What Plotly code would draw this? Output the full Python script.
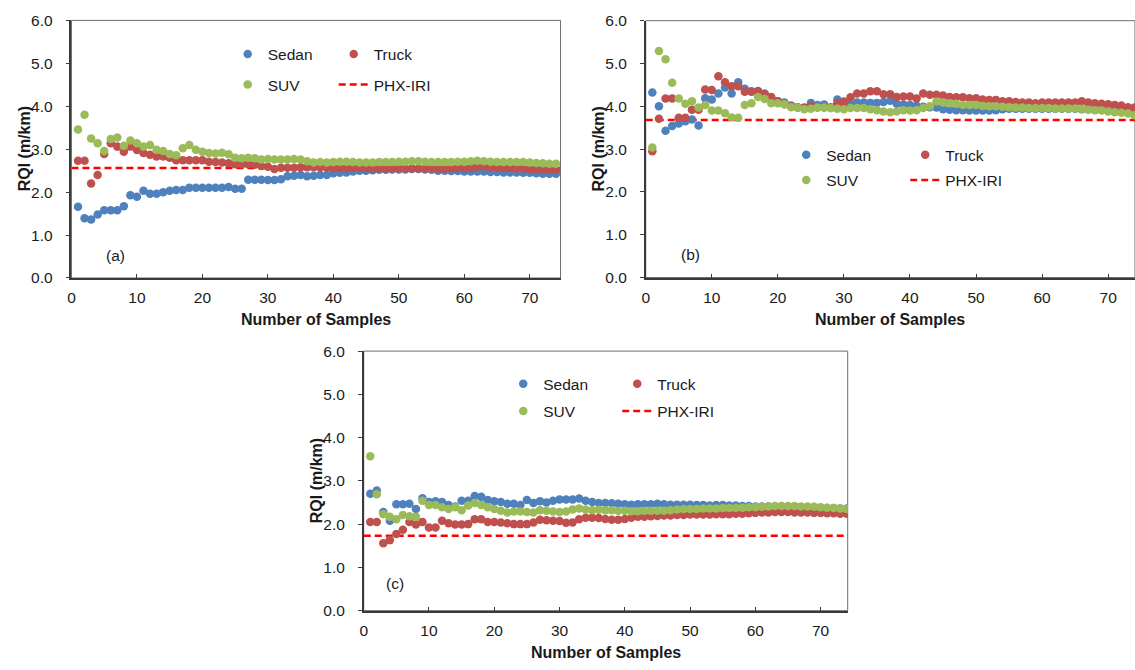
import plotly.graph_objects as go

# ---------------- data ----------------
samples = list(range(1, 75))
x_ticks = [0, 10, 20, 30, 40, 50, 60, 70]
y_ticks = [0, 1, 2, 3, 4, 5, 6]
series_names = ["Sedan", "Truck", "SUV"]
series_colors = ["#4F81BD", "#C0504D", "#9BBB59"]
panel_labels = ["(a)", "(b)", "(c)"]
phx_iri = [2.56, 3.68, 1.73]

sedan_a = [1.66, 1.39, 1.36, 1.48, 1.58, 1.58, 1.58, 1.67, 1.93, 1.89,
           2.03, 1.96, 1.96, 2.00, 2.03, 2.05, 2.05, 2.10, 2.10, 2.10,
           2.10, 2.10, 2.10, 2.12, 2.08, 2.08, 2.29, 2.29, 2.29, 2.28,
           2.28, 2.30, 2.37, 2.38, 2.40, 2.37, 2.38, 2.40, 2.40, 2.44,
           2.45, 2.46, 2.48, 2.50, 2.50, 2.51, 2.52, 2.52, 2.53, 2.53,
           2.53, 2.54, 2.54, 2.53, 2.52, 2.50, 2.50, 2.49, 2.49, 2.48,
           2.48, 2.48, 2.48, 2.47, 2.47, 2.46, 2.46, 2.46, 2.45, 2.45,
           2.44, 2.43, 2.43, 2.43]
truck_a = [2.73, 2.73, 2.20, 2.40, 2.89, 3.14, 3.06, 2.94, 3.06, 2.98,
           2.91, 2.87, 2.83, 2.83, 2.80, 2.74, 2.74, 2.74, 2.74, 2.74,
           2.71, 2.70, 2.69, 2.67, 2.65, 2.65, 2.65, 2.64, 2.61, 2.59,
           2.54, 2.57, 2.57, 2.57, 2.58, 2.58, 2.58, 2.58, 2.57, 2.56,
           2.56, 2.56, 2.56, 2.56, 2.56, 2.55, 2.55, 2.55, 2.55, 2.55,
           2.55, 2.55, 2.55, 2.55, 2.55, 2.55, 2.55, 2.55, 2.56, 2.56,
           2.57, 2.59, 2.60, 2.58, 2.57, 2.56, 2.56, 2.55, 2.55, 2.54,
           2.54, 2.53, 2.52, 2.52]
suv_a = [3.46, 3.80, 3.25, 3.14, 2.96, 3.24, 3.27, 3.08, 3.20, 3.14,
         3.06, 3.10, 2.99, 2.96, 2.89, 2.86, 3.02, 3.10, 2.99, 2.94,
         2.91, 2.90, 2.92, 2.88, 2.80, 2.79, 2.80, 2.79, 2.76, 2.77,
         2.76, 2.76, 2.76, 2.77, 2.76, 2.72, 2.69, 2.70, 2.69, 2.70,
         2.71, 2.71, 2.70, 2.69, 2.69, 2.69, 2.70, 2.70, 2.70, 2.71,
         2.71, 2.72, 2.72, 2.71, 2.70, 2.70, 2.70, 2.70, 2.71, 2.71,
         2.72, 2.73, 2.72, 2.71, 2.70, 2.70, 2.70, 2.70, 2.70, 2.69,
         2.68, 2.67, 2.66, 2.66]

sedan_b = [4.32, 4.00, 3.43, 3.54, 3.60, 3.65, 3.69, 3.55, 4.19, 4.16,
           4.30, 4.44, 4.30, 4.56, 4.41, 4.35, 4.36, 4.30, 4.20, 4.12,
           4.09, 4.02, 3.98, 3.97, 4.08, 4.03, 4.04, 3.98, 4.16, 4.03,
           4.06, 4.09, 4.09, 4.08, 4.08, 4.10, 4.13, 4.06, 4.04, 4.03,
           4.01, 3.99, 3.98, 3.97, 3.93, 3.92, 3.91, 3.91, 3.90, 3.90,
           3.90, 3.90, 3.91, 3.93, 3.94, 3.94, 3.94, 3.94, 3.94, 3.94,
           3.94, 3.94, 3.94, 3.94, 3.94, 3.93, 3.93, 3.92, 3.92, 3.91,
           3.90, 3.89, 3.88, 3.88]
truck_b = [2.95, 3.71, 4.18, 4.18, 3.73, 3.73, 3.92, 3.92, 4.39, 4.38,
           4.70, 4.56, 4.47, 4.47, 4.34, 4.34, 4.35, 4.28, 4.22, 4.12,
           4.05, 4.00, 3.97, 3.96, 4.00, 3.97, 3.97, 3.96, 4.07, 4.11,
           4.21, 4.30, 4.30, 4.35, 4.35, 4.28, 4.28, 4.22, 4.23, 4.23,
           4.18, 4.30, 4.27, 4.27, 4.25, 4.22, 4.21, 4.21, 4.19, 4.19,
           4.16, 4.15, 4.15, 4.12, 4.12, 4.10, 4.09, 4.09, 4.07, 4.09,
           4.09, 4.09, 4.09, 4.09, 4.09, 4.12, 4.09, 4.07, 4.06, 4.05,
           4.03, 4.02, 3.98, 3.97]
suv_b = [3.04, 5.29, 5.10, 4.55, 4.18, 4.06, 4.12, 3.97, 4.03, 3.90,
         3.90, 3.84, 3.74, 3.73, 4.03, 4.07, 4.22, 4.17, 4.07, 4.07,
         4.05, 3.98, 3.97, 3.93, 3.94, 3.97, 3.97, 3.96, 3.94, 3.93,
         3.96, 3.96, 3.96, 3.93, 3.91, 3.88, 3.86, 3.88, 3.91, 3.90,
         3.91, 3.96, 4.00, 4.11, 4.09, 4.07, 4.06, 4.03, 4.03, 4.03,
         4.01, 4.00, 4.00, 3.99, 3.98, 3.97, 3.97, 3.96, 3.96, 3.96,
         3.96, 3.95, 3.95, 3.95, 3.95, 3.94, 3.92, 3.91, 3.90, 3.88,
         3.86, 3.85, 3.83, 3.79]

sedan_c = [2.70, 2.78, 2.28, 2.08, 2.46, 2.46, 2.47, 2.35, 2.60, 2.51,
           2.53, 2.51, 2.44, 2.41, 2.54, 2.54, 2.65, 2.63, 2.56, 2.53,
           2.51, 2.47, 2.47, 2.44, 2.56, 2.49, 2.53, 2.50, 2.54, 2.57,
           2.57, 2.57, 2.59, 2.54, 2.51, 2.49, 2.49, 2.48, 2.47, 2.46,
           2.45, 2.46, 2.46, 2.46, 2.47, 2.46, 2.45, 2.45, 2.45, 2.45,
           2.44, 2.44, 2.43, 2.44, 2.44, 2.43, 2.43, 2.42, 2.42, 2.41,
           2.41, 2.41, 2.41, 2.40, 2.40, 2.40, 2.39, 2.39, 2.38, 2.38,
           2.37, 2.37, 2.36, 2.36]
truck_c = [2.05, 2.05, 1.56, 1.63, 1.77, 1.87, 2.05, 1.99, 2.05, 1.92,
           1.92, 2.08, 2.02, 1.99, 1.99, 2.00, 2.11, 2.11, 2.05, 2.05,
           2.04, 2.02, 2.00, 2.00, 2.00, 2.04, 2.10, 2.09, 2.08, 2.07,
           2.03, 2.04, 2.11, 2.15, 2.15, 2.14, 2.12, 2.10, 2.10, 2.12,
           2.15, 2.17, 2.17, 2.18, 2.19, 2.20, 2.20, 2.21, 2.21, 2.22,
           2.22, 2.22, 2.22, 2.23, 2.23, 2.23, 2.24, 2.24, 2.25, 2.26,
           2.27, 2.27, 2.28, 2.28, 2.28, 2.27, 2.27, 2.27, 2.26, 2.26,
           2.25, 2.25, 2.24, 2.24]
suv_c = [3.57, 2.69, 2.23, 2.17, 2.11, 2.21, 2.18, 2.17, 2.54, 2.44,
         2.44, 2.39, 2.35, 2.39, 2.32, 2.43, 2.49, 2.44, 2.39, 2.35,
         2.31, 2.27, 2.29, 2.29, 2.28, 2.27, 2.32, 2.31, 2.29, 2.28,
         2.29, 2.34, 2.36, 2.34, 2.32, 2.33, 2.32, 2.32, 2.31, 2.31,
         2.30, 2.30, 2.31, 2.31, 2.31, 2.31, 2.32, 2.34, 2.35, 2.35,
         2.35, 2.36, 2.36, 2.36, 2.37, 2.37, 2.38, 2.38, 2.39, 2.39,
         2.40, 2.41, 2.42, 2.42, 2.42, 2.42, 2.41, 2.41, 2.40, 2.39,
         2.38, 2.37, 2.36, 2.35]

panel_series = [
    [sedan_a, truck_a, suv_a],
    [sedan_b, truck_b, suv_b],
    [sedan_c, truck_c, suv_c],
]

# ---------------- layout geometry (pixels) ----------------
W, H = 1135, 670
FONT = "Arial, 'Liberation Sans', sans-serif"
TXT = "#1a1a1a"

# left, right, top, bottom of each plot area, and x-axis upper limit
boxes = [
    dict(l=67.7, r=558.5, t=11.7, b=276.0, xmax=74.7,
         leg_x=224.5, leg_y=(46.5, 78.0), entry=61, lab=(112, 253)),
    dict(l=644.0, r=1135.0, t=12.0, b=275.5, xmax=74.06,
         leg_x=785.0, leg_y=(150.0, 176.0), entry=74, lab=(689, 252)),
    dict(l=361.0, r=846.7, t=351.0, b=617.3, xmax=74.15,
         leg_x=501.0, leg_y=(385.0, 413.0), entry=69, lab=(392, 589)),
]


def fx(p):
    return p / W


def fy(p):
    return 1 - p / H


fig = go.Figure()
layout = dict(
    width=W, height=H,
    margin=dict(l=0, r=0, t=0, b=0),
    paper_bgcolor="white", plot_bgcolor="white",
    font=dict(family=FONT, size=15.5, color=TXT),
    showlegend=True,
)
annotations = []
shapes = []

for i, box in enumerate(boxes):
    sfx = "" if i == 0 else str(i + 1)
    xa, ya = "x" + sfx, "y" + sfx
    leg1 = "legend" if i == 0 else "legend" + str(2 * i + 1)
    leg2 = "legend" + str(2 * i + 2)

    # reference line (drawn first so the markers sit on top of it)
    fig.add_trace(go.Scatter(
        x=[0, box["xmax"]], y=[phx_iri[i], phx_iri[i]],
        mode="lines", name="PHX-IRI",
        line=dict(color="#FF0000", width=2.5, dash="7px,4px"),
        xaxis=xa, yaxis=ya, legend=leg2, legendrank=2000,
        hoverinfo="skip",
    ))
    for name, color, vals in zip(series_names, series_colors, panel_series[i]):
        fig.add_trace(go.Scatter(
            x=samples, y=vals, mode="markers", name=name,
            marker=dict(color=color, size=8.5, line=dict(width=0)),
            xaxis=xa, yaxis=ya,
            legend=leg2 if name == "SUV" else leg1,
            legendrank=1000,
        ))

    layout["xaxis" + sfx] = dict(
        domain=[fx(box["l"]), fx(box["r"])], anchor=ya,
        range=[0, box["xmax"]], tickvals=x_ticks,
        ticks="inside", ticklen=4, tickcolor="#3a3a3a", tickwidth=1.2,
        showline=True, linecolor="#3a3a3a", linewidth=1.5,
        showgrid=False, zeroline=False, ticklabelstandoff=5,
        tickfont=dict(family=FONT, size=15.5, color=TXT),
    )
    layout["yaxis" + sfx] = dict(
        domain=[fy(box["b"]), fy(box["t"])], anchor=xa,
        range=[0, 6], tickvals=y_ticks, tickformat=".1f",
        ticks="outside", ticklen=4, tickcolor="#3a3a3a", tickwidth=1.2,
        showline=True, linecolor="#3a3a3a", linewidth=1.5,
        showgrid=False, zeroline=False, ticklabelstandoff=10,
        tickfont=dict(family=FONT, size=15.5, color=TXT),
    )
    # plot-area frame (top and right edges)
    shapes.append(dict(
        type="rect", xref=xa + " domain", yref=ya + " domain",
        x0=0, x1=1, y0=0, y1=1, line=dict(color="#6e6e6e", width=1),
        layer="below",
    ))

    for leg, ypx in ((leg1, box["leg_y"][0]), (leg2, box["leg_y"][1])):
        layout[leg] = dict(
            orientation="h", x=fx(box["leg_x"]), y=fy(ypx),
            xanchor="left", yanchor="middle",
            entrywidth=box["entry"], entrywidthmode="pixels",
            bgcolor="rgba(0,0,0,0)", borderwidth=0,
            font=dict(family=FONT, size=15.5, color=TXT),
            itemclick=False, itemdoubleclick=False,
        )

    cx = (box["l"] + box["r"]) / 2
    cy = (box["t"] + box["b"]) / 2
    annotations.append(dict(
        text="<b>Number of Samples</b>", xref="paper", yref="paper",
        x=fx(cx), y=fy(box["b"] + 43), xanchor="center", yanchor="middle",
        showarrow=False, font=dict(family=FONT, size=16, color=TXT),
    ))
    annotations.append(dict(
        text="<b>RQI (m/km)</b>", xref="paper", yref="paper",
        x=fx(box["l"] - 47.5), y=fy(cy), xanchor="center", yanchor="middle",
        textangle=-90, showarrow=False,
        font=dict(family=FONT, size=16, color=TXT),
    ))
    annotations.append(dict(
        text=panel_labels[i], xref="paper", yref="paper",
        x=fx(box["lab"][0]), y=fy(box["lab"][1]),
        xanchor="center", yanchor="middle", showarrow=False,
        font=dict(family=FONT, size=15.5, color=TXT),
    ))

layout["annotations"] = annotations
layout["shapes"] = shapes
fig.update_layout(**layout)

fig.write_html("out.html")
